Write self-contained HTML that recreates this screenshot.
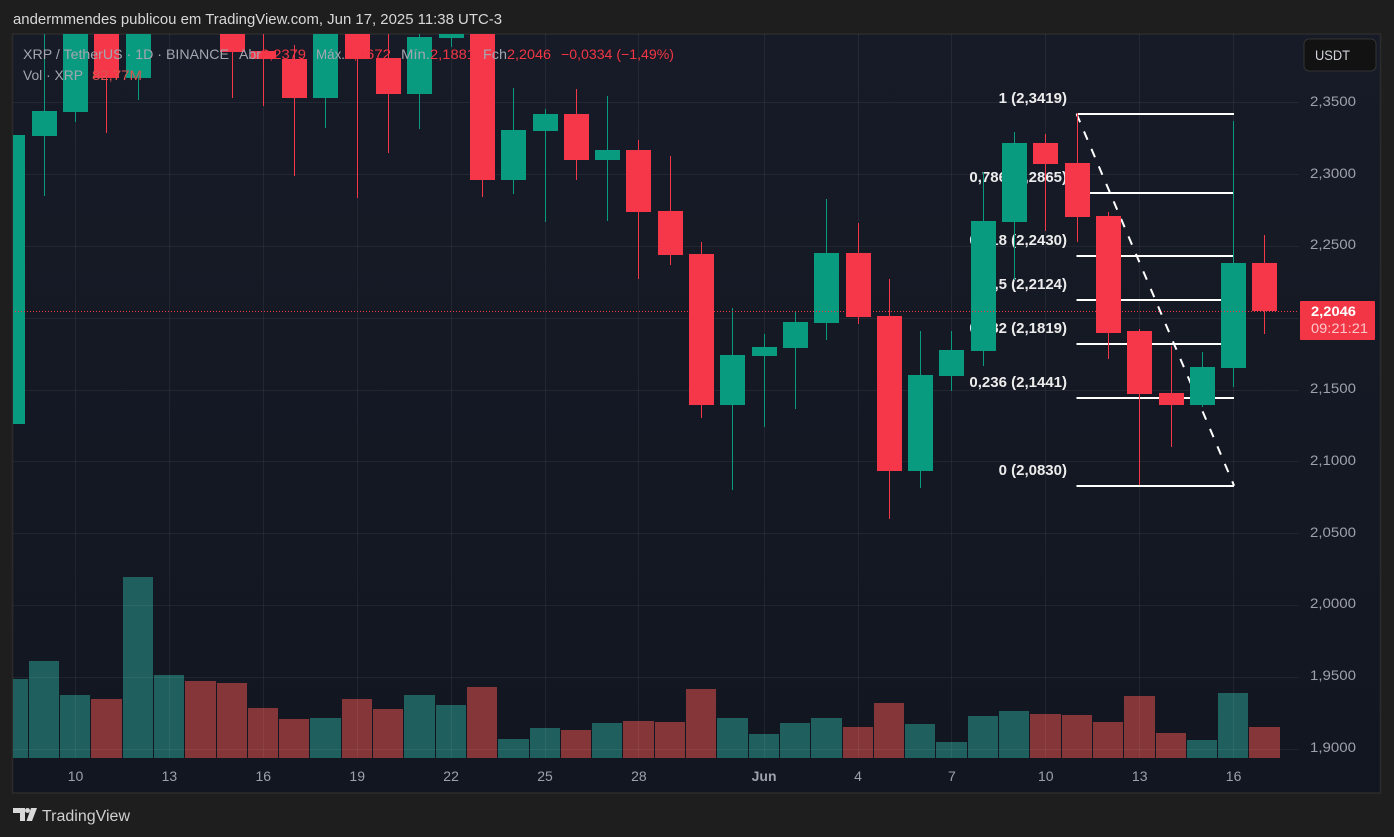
<!DOCTYPE html>
<html lang="pt">
<head>
<meta charset="utf-8">
<title>XRP / TetherUS chart</title>
<style>
html,body{margin:0;padding:0;background:#1e1e1e;width:1394px;height:837px;overflow:hidden}
svg{display:block;font-family:"Liberation Sans",sans-serif}
</style>
</head>
<body>
<svg id="chart" width="1394" height="837" viewBox="0 0 1394 837" xmlns="http://www.w3.org/2000/svg">
  <defs>
    <linearGradient id="bgGrad" x1="0" y1="0" x2="0" y2="1">
      <stop offset="0" stop-color="#171b27"/>
      <stop offset="1" stop-color="#121620"/>
    </linearGradient>
    <clipPath id="paneClip"><rect x="13" y="34" width="1286" height="724"/></clipPath>
  </defs>
  <rect x="0" y="0" width="1394" height="837" fill="#1e1e1e"/>
  <text x="13" y="24" font-size="14.5" fill="#d8d8d8" textLength="489" lengthAdjust="spacingAndGlyphs">andermmendes publicou em TradingView.com, Jun 17, 2025 11:38 UTC-3</text>
  <rect x="12.5" y="34" width="1368" height="759" fill="url(#bgGrad)" stroke="#2b2b2b" stroke-width="1.6"/>
  <g id="volumes" clip-path="url(#paneClip)"></g>
  <g id="grid" clip-path="url(#paneClip)"></g>
  <g id="fib" clip-path="url(#paneClip)"></g>
  <g id="candles" clip-path="url(#paneClip)"></g>
  <g id="lastLine"></g>
  <g id="legend" font-size="14">
    <text x="23" y="59" fill="#a3a6af" textLength="206" lengthAdjust="spacingAndGlyphs">XRP / TetherUS · 1D · BINANCE</text>
    <text x="239" y="59" fill="#a3a6af" textLength="22" lengthAdjust="spacingAndGlyphs">Abr</text>
    <text x="261" y="59" fill="#f23645" textLength="45" lengthAdjust="spacingAndGlyphs">2,2379</text>
    <text x="316" y="59" fill="#a3a6af" textLength="29" lengthAdjust="spacingAndGlyphs">Máx.</text>
    <text x="345" y="59" fill="#f23645" textLength="46" lengthAdjust="spacingAndGlyphs">2,3672</text>
    <text x="401" y="59" fill="#a3a6af" textLength="29" lengthAdjust="spacingAndGlyphs">Mín.</text>
    <text x="430" y="59" fill="#f23645" textLength="45" lengthAdjust="spacingAndGlyphs">2,1881</text>
    <text x="483" y="59" fill="#a3a6af" textLength="24" lengthAdjust="spacingAndGlyphs">Fch</text>
    <text x="507" y="59" fill="#f23645" textLength="44" lengthAdjust="spacingAndGlyphs">2,2046</text>
    <text x="561" y="59" fill="#f23645" textLength="113" lengthAdjust="spacingAndGlyphs">−0,0334 (−1,49%)</text>
    <text x="23" y="80" fill="#a3a6af" textLength="60" lengthAdjust="spacingAndGlyphs">Vol · XRP</text>
    <text x="92" y="80" fill="#d9534f" textLength="50" lengthAdjust="spacingAndGlyphs">82,77M</text>
  </g>
  <g id="priceAxis" font-size="14" fill="#9ea1aa"></g>
  <g id="timeAxis" font-size="14" fill="#9ea1aa" text-anchor="middle"></g>
  <g>
    <rect x="1304" y="39" width="72" height="32" rx="5" fill="#121212" stroke="#333333" stroke-width="1"/>
    <text x="1315" y="60" font-size="14" fill="#d1d4dc" textLength="35" lengthAdjust="spacingAndGlyphs">USDT</text>
  </g>
  <g id="priceTag">
    <rect x="1300" y="301" width="75" height="39" rx="1" fill="#f23645"/>
    <text x="1311" y="316" font-size="14" font-weight="bold" fill="#ffffff" textLength="45" lengthAdjust="spacingAndGlyphs">2,2046</text>
    <text x="1311" y="333" font-size="14" fill="#ffffff" fill-opacity="0.72" textLength="57" lengthAdjust="spacingAndGlyphs">09:21:21</text>
  </g>
  <g>
    <path fill="#d9d9d9" d="M13 808h12v13h-5v-8h-7z M31 808l-4.500 13h5.500l5-13z"/>
    <circle cx="27.500" cy="810.500" r="2.500" fill="#d9d9d9"/>
    <text x="42" y="821" font-size="15.500" fill="#cfcfcf" textLength="88" lengthAdjust="spacingAndGlyphs">TradingView</text>
  </g>
</svg>
<script>
// ---- chart data ----
const categories = ['May 8','May 9','May 10','May 11','May 12','May 13','May 14','May 15','May 16','May 17','May 18','May 19','May 20','May 21','May 22','May 23','May 24','May 25','May 26','May 27','May 28','May 29','May 30','May 31','Jun 1','Jun 2','Jun 3','Jun 4','Jun 5','Jun 6','Jun 7','Jun 8','Jun 9','Jun 10','Jun 11','Jun 12','Jun 13','Jun 14','Jun 15','Jun 16','Jun 17'];
const opens  = [2.1260,2.3265,2.3433,2.4600,2.3669,2.5200,2.5900,2.5200,2.3857,2.3802,2.3530,2.4100,2.3808,2.3558,2.3948,2.4200,2.2959,2.3300,2.3419,2.3098,2.3168,2.2743,2.2444,2.1392,2.1733,2.1789,2.1963,2.2451,2.2012,2.0933,2.1594,2.1768,2.2667,2.3217,2.3077,2.2708,2.1907,2.1476,2.1392,2.1650,2.2379];
const highs  = [2.3300,2.4400,2.4500,2.4800,2.5500,2.6000,2.6100,2.5400,2.4400,2.3899,2.4300,2.4300,2.4100,2.4100,2.4400,2.4400,2.3600,2.3453,2.3593,2.3544,2.3238,2.3126,2.2527,2.2068,2.1887,2.2047,2.2827,2.2660,2.2270,2.1907,2.1907,2.3015,2.3293,2.3279,2.3426,2.2736,2.1921,2.1803,2.1761,2.3370,2.2576];
const lows   = [2.1176,2.2847,2.3363,2.3286,2.3516,2.4700,2.4500,2.3530,2.3474,2.2987,2.3321,2.2834,2.3147,2.3314,2.3885,2.2841,2.2861,2.2666,2.2959,2.2673,2.2270,2.2367,2.1302,2.0800,2.1239,2.1364,2.1845,2.1956,2.0598,2.0814,2.1490,2.1664,2.2263,2.2604,2.2527,2.1712,2.0835,2.1100,2.1378,2.1518,2.1887];
const closes = [2.3272,2.3439,2.4300,2.3669,2.5200,2.5900,2.5200,2.3850,2.3802,2.3530,2.4100,2.3802,2.3558,2.3955,2.4200,2.2959,2.3307,2.3419,2.3098,2.3168,2.2736,2.2437,2.1392,2.1740,2.1796,2.1970,2.2451,2.2005,2.0933,2.1601,2.1775,2.2674,2.3217,2.3070,2.2701,2.1894,2.1469,2.1392,2.1657,2.2381,2.2046];
const volumes = [211,259,168,158,483,222,206,200,134,104,107,158,131,168,142,190,51,80,75,93,99,96,184,107,64,93,107,83,147,91,43,112,125,117,115,96,166,67,48,174,82.77];
const priceTicks = [2.35,2.30,2.25,2.20,2.15,2.10,2.05,2.00,1.95,1.90];
const timeTickLabels = ['10','13','16','19','22','25','28','Jun','4','7','10','13','16'];
const timeTickCategories = ['May 10','May 13','May 16','May 19','May 22','May 25','May 28','Jun 1','Jun 4','Jun 7','Jun 10','Jun 13','Jun 16'];
const fibLevels = ['1','0,786','0,618','0,5','0,382','0,236','0'];
const fibPrices = [2.3419,2.2865,2.2430,2.2124,2.1819,2.1441,2.0830];
const lastPrice = 2.2046;
const fibStartCategory = 'Jun 11';
const fibEndCategory = 'Jun 16';

// ---- axis functions ----
function xScale(i){ return 75.5 + (i - 2) * 31.3; }
function xOf(cat){ return xScale(categories.indexOf(cat)); }
function yScale(p){ return 102.3 + (2.35 - p) * 1436; }
function volScale(v){ return 758 - v / 2.67; }
function fmt(p){ return p.toFixed(4).replace('.', ','); }
function pixelCentre(x){ return Math.round(x - 0.5) + 0.5; }

const NS = 'http://www.w3.org/2000/svg';
function make(tag, parent, attrs){
  const el = document.createElementNS(NS, tag);
  for (const k in attrs) el.setAttribute(k, attrs[k]);
  parent.appendChild(el);
  return el;
}
const UP = '#089b80', DOWN = '#f53749', VUP = '#1f5f5d', VDOWN = '#843639';

// ---- volume bars ----
const volG = document.getElementById('volumes');
volumes.forEach(function(v, i){
  const up = closes[i] >= opens[i];
  const top = Math.round(volScale(v));
  const left = Math.round(xScale(i) - 15.5);
  const right = Math.round(xScale(i + 1) - 15.5) - 1;
  const el = make('rect', volG, {x: left, y: top, width: right - left, height: 758 - top, fill: up ? VUP : VDOWN, 'shape-rendering': 'crispEdges'});
  
  
});

// ---- grid ----
const gridG = document.getElementById('grid');
priceTicks.forEach(function(p){
  const el = make('line', gridG, {x1: 13, x2: 1299, y1: Math.round(yScale(p)) + 0.5, y2: Math.round(yScale(p)) + 0.5, stroke: 'rgba(255,255,255,0.06)', 'stroke-width': 1});
  
  
});
timeTickCategories.forEach(function(c){
  const x = pixelCentre(xOf(c));
  const el = make('line', gridG, {x1: x, x2: x, y1: 34, y2: 758, stroke: 'rgba(255,255,255,0.06)', 'stroke-width': 1});
  
  
});

// ---- fibonacci retracement ----
const fibG = document.getElementById('fib');
const fx1 = xOf(fibStartCategory) - 0.5, fx2 = xOf(fibEndCategory) + 0.5;
const trend = make('line', fibG, {x1: fx1, y1: yScale(fibPrices[0]), x2: fx2, y2: yScale(fibPrices[fibPrices.length - 1]), stroke: '#ffffff', 'stroke-width': 2, 'stroke-dasharray': '9 10'});


fibPrices.forEach(function(p, i){
  const y = Math.round(yScale(p));
  const ln = make('line', fibG, {x1: fx1, x2: fx2, y1: y, y2: y, stroke: '#ffffff', 'stroke-width': 2, 'shape-rendering': 'crispEdges'});
  
  
  const t = make('text', fibG, {x: 1067, y: y - 11, 'text-anchor': 'end', 'font-size': 15, 'font-weight': 'bold', fill: '#ececec'});
  t.textContent = fibLevels[i] + ' (' + fmt(p) + ')';
  
  
});

// ---- candles ----
const candleG = document.getElementById('candles');
categories.forEach(function(c, i){
  const up = closes[i] >= opens[i];
  const col = up ? UP : DOWN;
  const x = xScale(i);
  const wx = pixelCentre(x);
  const wick = make('line', candleG, {x1: wx, x2: wx, y1: Math.round(yScale(highs[i])), y2: Math.round(yScale(lows[i])), stroke: col, 'stroke-width': 1, 'shape-rendering': 'crispEdges'});
  
  
  const top = Math.round(yScale(Math.max(opens[i], closes[i])));
  const bot = Math.round(yScale(Math.min(opens[i], closes[i])));
  const body = make('rect', candleG, {x: Math.round(x - 12.5), y: top, width: 25, height: Math.max(1, bot - top), fill: col, 'shape-rendering': 'crispEdges'});
  
  
});

// ---- last price line ----
const lastG = document.getElementById('lastLine');
const ly = Math.round(yScale(lastPrice)) + 0.5;
const lastLine = make('line', lastG, {x1: 15, x2: 1299, y1: ly, y2: ly, stroke: '#f23645', 'stroke-width': 1, 'stroke-dasharray': '1 2', 'shape-rendering': 'crispEdges'});



// ---- price axis labels ----
const paxis = document.getElementById('priceAxis');
priceTicks.forEach(function(p){
  if (Math.abs(p - 2.20) < 1e-9) return; // hidden behind the last-price tag
  const t = make('text', paxis, {x: 1310, y: Math.round(yScale(p) - 0.6) + 4, textLength: 46, lengthAdjust: 'spacingAndGlyphs'});
  t.textContent = fmt(p);
  
  
});

// ---- time axis labels ----
const taxis = document.getElementById('timeAxis');
timeTickLabels.forEach(function(lab, i){
  const t = make('text', taxis, {x: xOf(timeTickCategories[i]), y: 781});
  if (lab === 'Jun') t.setAttribute('font-weight', 'bold');
  t.textContent = lab;
  
  
});
</script>
</body>
</html>
